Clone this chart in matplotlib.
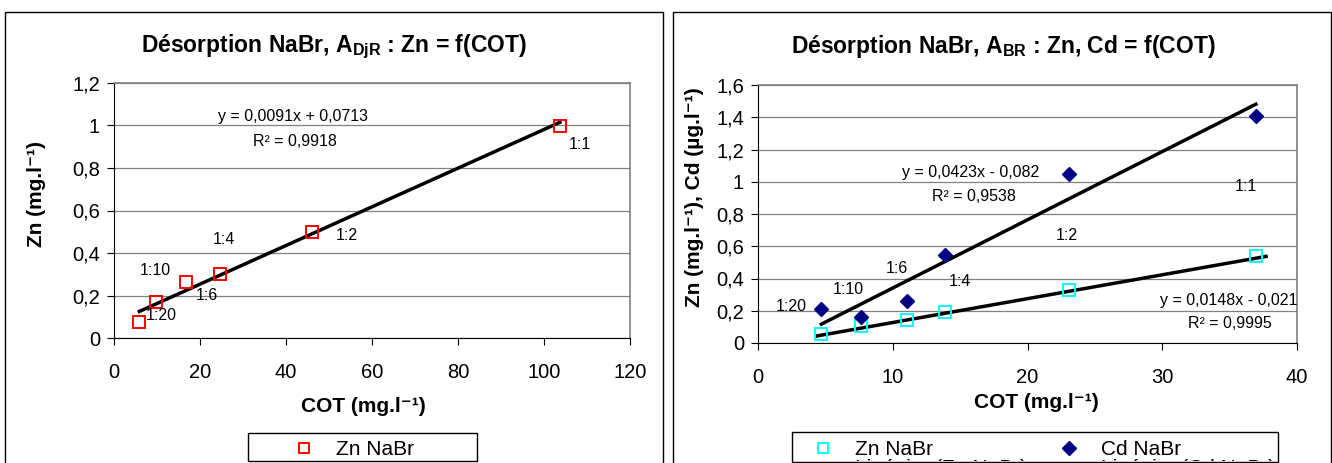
import numpy as np
import matplotlib
matplotlib.use("Agg")
import matplotlib.pyplot as plt
from matplotlib.ticker import FuncFormatter, MultipleLocator
from matplotlib.patches import Rectangle
from matplotlib.lines import Line2D

plt.rcParams['font.family'] = ['Liberation Sans', 'DejaVu Sans']
plt.rcParams['mathtext.fontset'] = 'custom'
plt.rcParams['mathtext.rm'] = 'Liberation Sans'
plt.rcParams['mathtext.bf'] = 'Liberation Sans:bold'
plt.rcParams['mathtext.it'] = 'Liberation Sans:italic'

# --- données, graphique de gauche (A_DjR) ---
cot_djr = [5.9, 9.8, 16.7, 24.7, 46.0, 103.7]
zn_djr = [0.075, 0.171, 0.264, 0.30, 0.50, 1.00]
ratios_djr = ["1:20", "1:10", "1:6", "1:4", "1:2", "1:1"]
lab_x_djr = [11.1, 9.5, 21.5, 25.6, 54.1, 108.4]
lab_y_djr = [0.108, 0.317, 0.20, 0.464, 0.48, 0.91]
fit_djr = (0.0091, 0.0713)

# --- données, graphique de droite (A_BR) ---
cot_br = [4.7, 7.65, 11.05, 13.85, 23.05, 36.95]
zn_br = [0.056, 0.107, 0.144, 0.19, 0.326, 0.54]
cd_br = [0.21, 0.16, 0.26, 0.546, 1.05, 1.41]
ratios_br = ["1:20", "1:10", "1:6", "1:4", "1:2", "1:1"]
lab_x_br = [2.5, 6.7, 10.3, 15.0, 22.9, 36.2]
lab_y_br = [0.227, 0.33, 0.464, 0.38, 0.666, 0.973]
fit_zn_br = (0.0148, -0.021)
fit_cd_br = (0.0423, -0.082)


def virgule(v, pos):
    s = f"{v:.1f}".rstrip("0").rstrip(".")
    return s.replace(".", ",")


W, H = 1332, 463
fig = plt.figure(figsize=(W / 100, H / 100), dpi=100)


def cadre(x0, y0, x1, y1, fill=False, z=11):
    # rectangle en pixels (origine en haut à gauche)
    fig.add_artist(Rectangle((x0 / W, 1 - y1 / H), (x1 - x0) / W, (y1 - y0) / H,
                             transform=fig.transFigure, fill=fill,
                             facecolor='white', linewidth=0 if fill else 1.0,
                             edgecolor='black', zorder=z))


# cadres des deux graphiques
cadre(5, 12, 663, 500)
cadre(673, 12, 1331, 500)
# bas des légendes masqué (comme dans l'original), puis leurs cadres
cadre(249, 461, 477, 470, fill=True, z=10)
cadre(793, 461, 1278, 470, fill=True, z=10)
cadre(248, 433, 477, 461)
cadre(792, 432, 1278, 461.5)

TXT = 11.5   # annotations
TICK = 14.5


def style_axes(ax, xmax, xstep, ymax):
    ax.set_xlim(0, xmax)
    ax.set_ylim(0, ymax)
    ax.xaxis.set_major_locator(MultipleLocator(xstep))
    ax.yaxis.set_major_locator(MultipleLocator(0.2))
    ax.yaxis.set_major_formatter(FuncFormatter(virgule))
    ax.grid(axis='y', color='#808080', linewidth=0.9)
    ax.set_axisbelow(True)
    for s in ['top', 'right']:
        ax.spines[s].set_color('#808080')
        ax.spines[s].set_linewidth(1.2)
    for s in ['left', 'bottom']:
        ax.spines[s].set_color('black')
    ax.tick_params(direction='out', length=5, labelsize=TICK)
    ax.tick_params(axis='y', pad=5)
    ax.tick_params(axis='x', pad=13)


leg_kw = dict(loc='upper left', bbox_transform=fig.transFigure, borderaxespad=0,
              frameon=False, fontsize=15, handlelength=1.5, handletextpad=0.8,
              borderpad=0, labelspacing=0.0)

# ---------- gauche ----------
ax1 = fig.add_axes([114 / W, 1 - 338 / H, 516 / W, 255 / H])
style_axes(ax1, 120, 20, 1.2)
xf = np.array([min(cot_djr), max(cot_djr)])
ax1.plot(xf, fit_djr[0] * xf + fit_djr[1], color='black', linewidth=2.5, zorder=2)
ax1.plot(cot_djr, zn_djr, linestyle='none', marker='s', markersize=8,
         markerfacecolor='none', markeredgecolor='red', markeredgewidth=1.4, zorder=3)
for t, x, y in zip(ratios_djr, lab_x_djr, lab_y_djr):
    ax1.text(x, y, t, fontsize=TXT, ha='center', va='center')
ax1.text(41.7, 1.04, "y = 0,0091x + 0,0713", fontsize=TXT, ha='center', va='center')
ax1.text(42, 0.927, "R² = 0,9918", fontsize=TXT, ha='center', va='center')
fig.text(363 / W, 1 - 407 / H, "COT (mg.l⁻¹)", fontsize=15, fontweight='bold',
         ha='center', va='center')
fig.text(36 / W, 1 - 194 / H, "Zn (mg.l⁻¹)", fontsize=15, fontweight='bold',
         ha='center', va='center', rotation=90)
fig.text(334 / W, 1 - 47 / H, r"Désorption NaBr, A$_{\mathbf{DjR}}$ : Zn = f(COT)",
         fontsize=16.5, fontweight='bold', ha='center', va='center')
h1 = Line2D([], [], linestyle='none', marker='s', markersize=7, markerfacecolor='none',
            markeredgecolor='red', markeredgewidth=1.4)
ax1.legend([h1], ["Zn NaBr"], bbox_to_anchor=(288 / W, 1 - 440 / H), **leg_kw)

# ---------- droite ----------
ax2 = fig.add_axes([758 / W, 1 - 343 / H, 539 / W, 258 / H])
style_axes(ax2, 40, 10, 1.6)
xf = np.array([min(cot_br), max(cot_br)])
ax2.plot(xf, fit_cd_br[0] * xf + fit_cd_br[1], color='black', linewidth=2.5, zorder=2)
xz = np.array([4.4, 37.7])
ax2.plot(xz, fit_zn_br[0] * xz + fit_zn_br[1], color='black', linewidth=2.5, zorder=2)
ax2.plot(cot_br, zn_br, linestyle='none', marker='s', markersize=8,
         markerfacecolor='none', markeredgecolor='cyan', markeredgewidth=1.4, zorder=3)
ax2.plot(cot_br, cd_br, linestyle='none', marker='D', markersize=7.5,
         color='#000080', zorder=3)
for t, x, y in zip(ratios_br, lab_x_br, lab_y_br):
    ax2.text(x, y, t, fontsize=TXT, ha='center', va='center')
ax2.text(15.8, 1.06, "y = 0,0423x - 0,082", fontsize=TXT, ha='center', va='center')
ax2.text(16.0, 0.91, "R² = 0,9538", fontsize=TXT, ha='center', va='center')
ax2.text(40, 0.264, "y = 0,0148x - 0,021", fontsize=TXT, ha='right', va='center')
ax2.text(35.0, 0.118, "R² = 0,9995", fontsize=TXT, ha='center', va='center')
fig.text(1036 / W, 1 - 402 / H, "COT (mg.l⁻¹)", fontsize=15, fontweight='bold',
         ha='center', va='center')
fig.text(694 / W, 1 - 197 / H, "Zn (mg.l⁻¹), Cd (µg.l⁻¹)", fontsize=15, fontweight='bold',
         ha='center', va='center', rotation=90)
fig.text(1003 / W, 1 - 47 / H, r"Désorption NaBr, A$_{\mathbf{BR}}$ : Zn, Cd = f(COT)",
         fontsize=16.5, fontweight='bold', ha='center', va='center')
hz = Line2D([], [], linestyle='none', marker='s', markersize=7, markerfacecolor='none',
            markeredgecolor='cyan', markeredgewidth=1.4)
hc = Line2D([], [], linestyle='none', marker='D', markersize=7.5, color='#000080')
lz = Line2D([], [], color='black', linewidth=2.5)
lc = Line2D([], [], color='black', linewidth=2.5)
ax2.legend([hz, lz, hc, lc],
           ["Zn NaBr", "Linéaire (Zn NaBr)", "Cd NaBr", "Linéaire (Cd NaBr)"],
           ncol=2, columnspacing=1.25, bbox_to_anchor=(807 / W, 1 - 440 / H), **leg_kw)

fig.savefig("out.png", dpi=100)
